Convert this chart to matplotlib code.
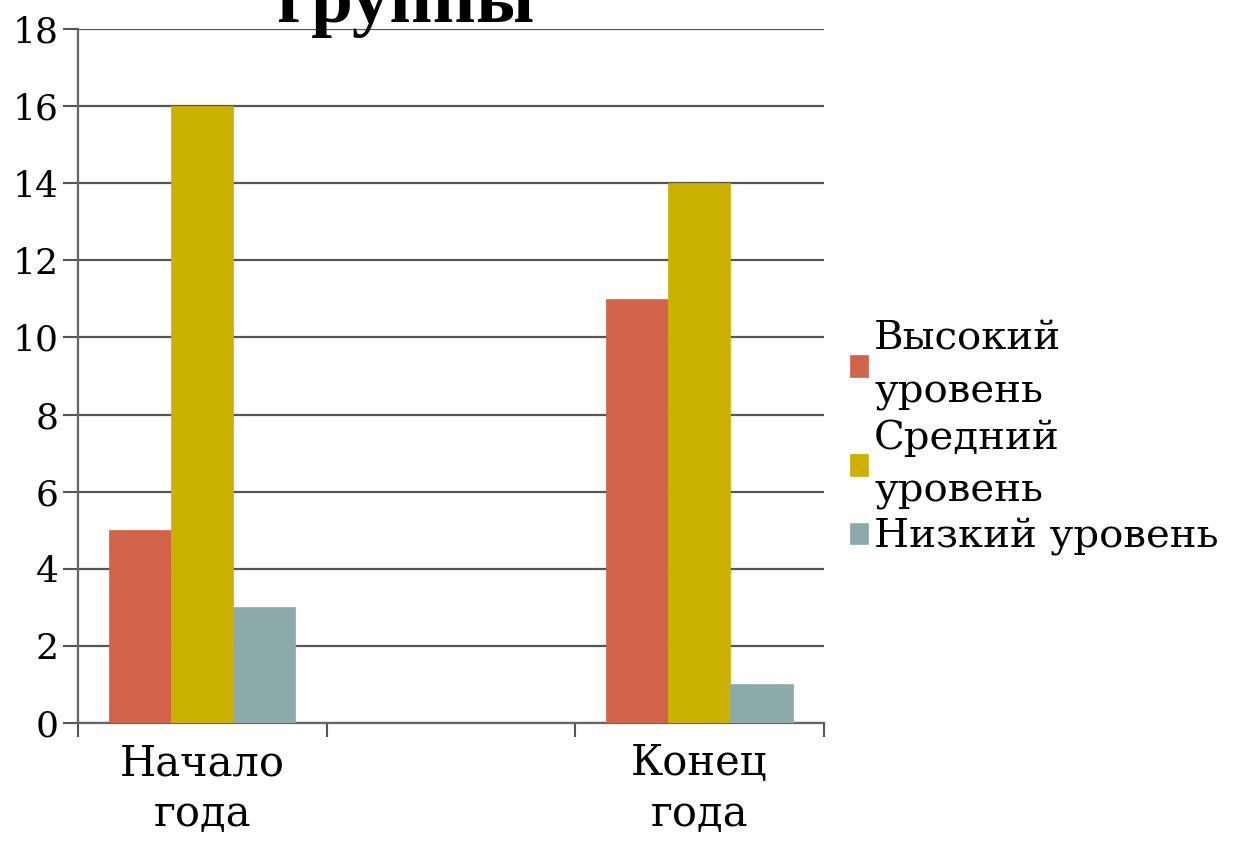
import numpy as np
import matplotlib
matplotlib.use("Agg")
import matplotlib.pyplot as plt

# chart data
categories = ["Начало\nгода", "", "Конец\nгода"]
series_names = ["Высокий\nуровень", "Средний\nуровень", "Низкий уровень"]
high = [5, np.nan, 11]
middle = [16, np.nan, 14]
low = [3, np.nan, 1]
colors = ["#D1634A", "#CCB200", "#8CAAAA"]
y_ticks = [0, 2, 4, 6, 8, 10, 12, 14, 16, 18]

plt.rcParams["font.family"] = ["DejaVu Serif"]

fig = plt.figure(figsize=(12.48, 8.44), dpi=100)
ax = fig.add_axes([0.0625, 0.1434, 0.5975, 0.8222])

x = np.arange(len(categories))
w = 0.25
for i, (vals, name) in enumerate(zip([high, middle, low], series_names)):
    ax.bar(x + (i - 1) * w, vals, w, color=colors[i], label=name,
           edgecolor=colors[i], linewidth=0.5, zorder=3)

ax.set_xlim(-0.5, len(categories) - 0.5)
ax.set_ylim(0, 18)
ax.set_yticks(y_ticks)
ax.set_yticklabels([str(v) for v in y_ticks])
ax.yaxis.grid(True, color="#555555", linewidth=1.6, zorder=0)

# category separators as major ticks, labels on minor ticks
ax.set_xticks(np.arange(len(categories) + 1) - 0.5)
ax.set_xticklabels([])
ax.set_xticks(x, minor=True)
ax.set_xticklabels(categories, minor=True, fontsize=30, linespacing=1.25)
ax.tick_params(axis="x", which="minor", length=0, pad=14)
ax.tick_params(axis="x", which="major", length=10, width=1.5, color="#555555",
               direction="out")
ax.tick_params(axis="y", length=11, width=1.5, color="#555555", labelsize=26,
               pad=3)

for s in ["top", "right"]:
    ax.spines[s].set_visible(False)
for s in ["left", "bottom"]:
    ax.spines[s].set_color("#666666")
    ax.spines[s].set_linewidth(1.6)

fig.text(0.325, 0.974, "группы", fontsize=54, fontweight="bold",
         family="Liberation Serif", ha="center", va="baseline")

leg = ax.legend(loc="center left", bbox_to_anchor=(1.0, 0.41), frameon=False,
                fontsize=29, handlelength=0.45, handleheight=0.45,
                handletextpad=0.15, labelspacing=0.2, borderaxespad=0.25)
for t in leg.get_texts():
    t.set_linespacing(1.55)

fig.savefig("out.png", dpi=100)
